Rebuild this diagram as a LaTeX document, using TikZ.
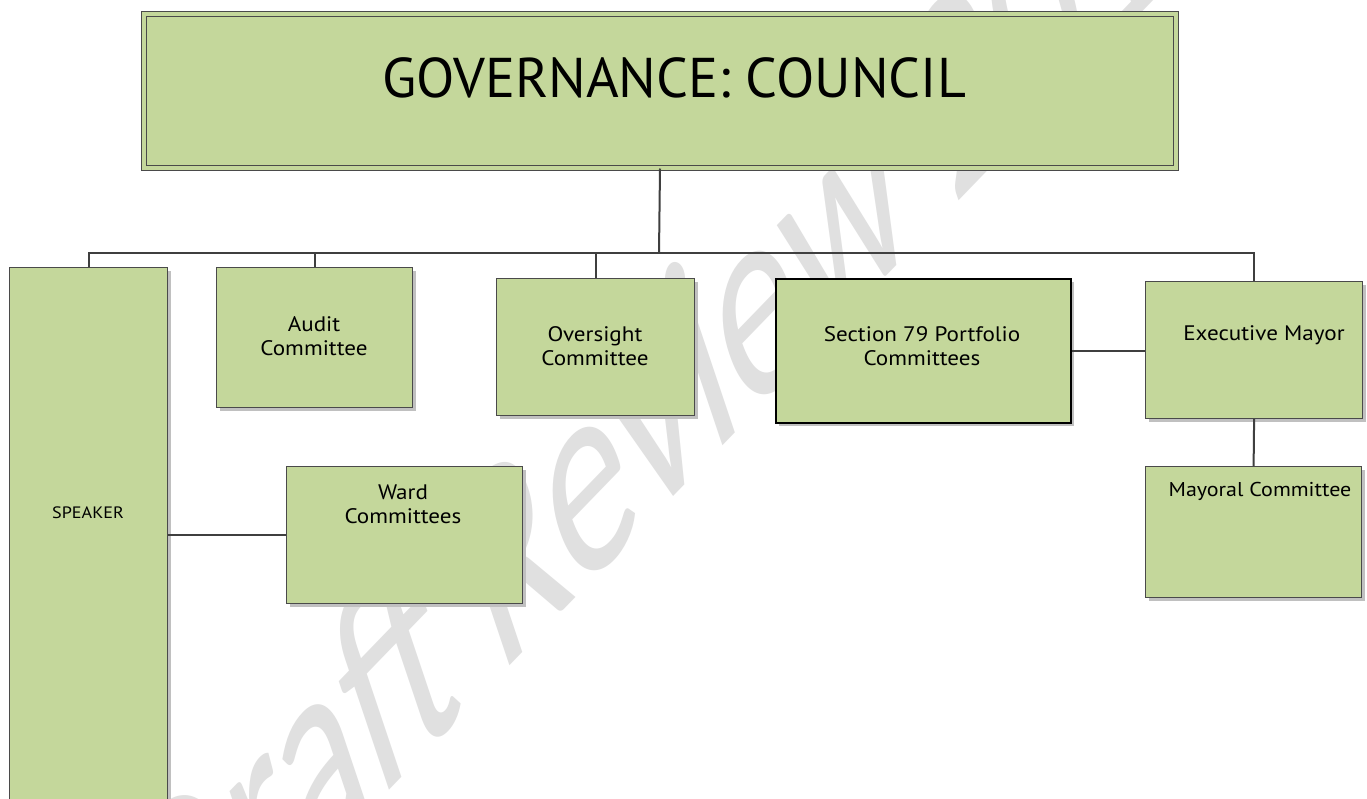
\documentclass[tikz,border=0pt]{standalone}
\usepackage{fontspec}
\setmainfont{PT Sans}
\newfontfamily\lblfont{PT Sans}[FakeStretch=1.1]
\newfontfamily\wmfont{Carlito}
\usetikzlibrary{shadows}

\definecolor{boxgreen}{HTML}{C4D79B}
\definecolor{edgegray}{HTML}{4A4A4A}
\definecolor{shadowgray}{HTML}{C0C0C0}
\definecolor{wmgray}{HTML}{E0E0E0}
\definecolor{conngray}{HTML}{3F3F3F}

\tikzset{
  orgbox/.style={draw=edgegray, line width=1.2pt, fill=boxgreen, inner sep=0pt,
    anchor=north west,
    drop shadow={shadow xshift=3pt, shadow yshift=-3pt, fill=shadowgray, opacity=1}},
  secbox/.style={orgbox, draw=black, line width=2pt},
  lbl/.style={align=center, inner sep=0pt, font=\lblfont\fontsize{21}{24}\selectfont},
  conn/.style={draw=conngray, line width=2pt},
}

\begin{document}
\begin{tikzpicture}[x=1pt, y=-1pt]
\useasboundingbox (0,0) rectangle (1367,798);
\fill[white] (0,0) rectangle (1367,798);
\clip (0,0) rectangle (1367,798);

% watermark
\begin{scope}[shift={(172,1015)}, yscale=1.755, rotate=30.5]
\node[transform shape, text=wmgray, inner sep=0pt, anchor=base west,
  font=\wmfont\fontsize{168}{168}\selectfont] (wm) at (0,0) {Draft Review 2016};
\end{scope}

% boxes
\node[orgbox, draw=edgegray, double=boxgreen, double distance=4pt, line width=1pt,
  minimum width=1032pt, minimum height=154pt] (council) at (143.5,13.5) {};
\node[inner sep=0pt, font=\fontsize{56}{60}\selectfont] (title) at (674,78) {GOVERNANCE: COUNCIL};

\node[orgbox, minimum width=158pt, minimum height=560pt] (speaker) at (9,267) {};
\node[lbl, font=\lblfont\fontsize{16.5}{20}\selectfont] (speakertxt) at (88,513) {SPEAKER};

\node[orgbox, minimum width=196pt, minimum height=140pt] (audit) at (216,267) {};
\node[lbl] (audittxt) at (314,336) {Audit\\Committee};

\node[orgbox, minimum width=198pt, minimum height=137pt] (oversight) at (496,278) {};
\node[lbl] (oversighttxt) at (595,346) {Oversight\\Committee};

\node[secbox, minimum width=295pt, minimum height=144pt] (section) at (775,278) {};
\node[lbl] (sectiontxt) at (922,346) {Section 79 Portfolio\\Committees};

\node[orgbox, minimum width=217pt, minimum height=137pt] (exec) at (1145,281) {};
\node[lbl] (exectxt) at (1264,335) {Executive Mayor};

\node[orgbox, minimum width=216pt, minimum height=131pt] (mayoral) at (1145,466) {};
\node[lbl, font=\lblfont\fontsize{20}{24}\selectfont] (mayoraltxt) at (1260,491) {Mayoral Committee};

\node[orgbox, minimum width=236pt, minimum height=137pt] (ward) at (286,466) {};
\node[lbl] (wardtxt) at (403,504) {Ward\\Committees};

% connectors
\coordinate (bus) at (659,253);
\draw[conn] (council.south) -- (bus);
\draw[conn] (speaker.north) -- (speaker.north |- bus) -- (exec.north |- bus) -- (exec.north);
\draw[conn] (audit.north) -- (audit.north |- bus);
\draw[conn] (oversight.north) -- (oversight.north |- bus);
\draw[conn] (section.east) -- (section.east -| exec.west);
\draw[conn] (exec.south) -- (mayoral.north);
\draw[conn] (ward.west) -- (ward.west -| speaker.east);
\end{tikzpicture}
\end{document}
